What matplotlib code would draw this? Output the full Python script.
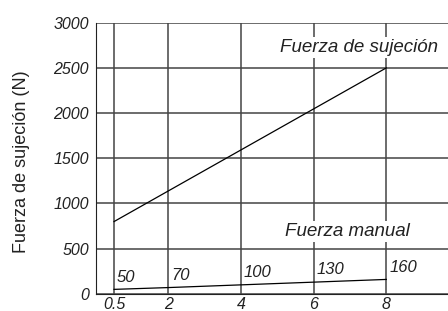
import matplotlib.pyplot as plt

# data
x = [0.5, 2, 4, 6, 8]
sujecion = [800, 1150, 1600, 2050, 2500]
manual = [50, 70, 100, 130, 160]
manual_labels = ['50', '70', '100', '130', '160']
yticks = [0, 500, 1000, 1500, 2000, 2500, 3000]
xticks = [0.5, 2, 4, 6, 8]
xticklabels = ['0.5', '2', '4', '6', '8']

fam = ['Liberation Sans', 'DejaVu Sans']
ink = '#222222'

fig = plt.figure(figsize=(4.48, 3.11), dpi=100)
ax = fig.add_axes([0.214, 0.055, 0.786, 0.872])

ax.plot([x[0], x[-1]], [sujecion[0], sujecion[-1]], color='black', lw=0.9, zorder=3)
ax.plot(x, manual, color='black', lw=0.9, zorder=3)

ax.set_xlim(0, 9.7)
ax.set_ylim(0, 3000)
ax.set_xticks(xticks)
ax.set_xticklabels(xticklabels)
ax.set_yticks(yticks)
ax.tick_params(axis='y', length=0, pad=5, labelsize=11.5, labelcolor=ink)
ax.tick_params(axis='x', length=0, pad=2, labelsize=11.5, labelcolor=ink)
for lab in ax.get_xticklabels() + ax.get_yticklabels():
    lab.set_family(fam)
    lab.set_style('italic')
ax.grid(True, color='#444444', lw=1.1)
ax.set_axisbelow(True)
for s in ['top', 'right']:
    ax.spines[s].set_visible(False)
ax.spines['left'].set_color('#222222')
ax.spines['bottom'].set_color('#222222')

for xi, v, t in zip(x, manual, manual_labels):
    ax.text(xi + 0.08, v + 135, t, ha='left', va='center', fontsize=12,
            style='italic', family=fam, color=ink, zorder=4)

ax.text(7.24, 2725, 'Fuerza de sujeción', ha='center', va='center', fontsize=13.5,
        style='italic', family=fam, color=ink, zorder=4,
        bbox=dict(facecolor='white', edgecolor='none', pad=1.5))
ax.text(6.93, 690, 'Fuerza manual', ha='center', va='center', fontsize=13.5,
        style='italic', family=fam, color=ink, zorder=4,
        bbox=dict(facecolor='white', edgecolor='none', pad=1.5))

fig.text(0.047, 0.48, 'Fuerza de sujeción (N)', rotation=90, ha='center',
         va='center', fontsize=13, family=fam, color=ink)

fig.savefig('out.png', dpi=100)
